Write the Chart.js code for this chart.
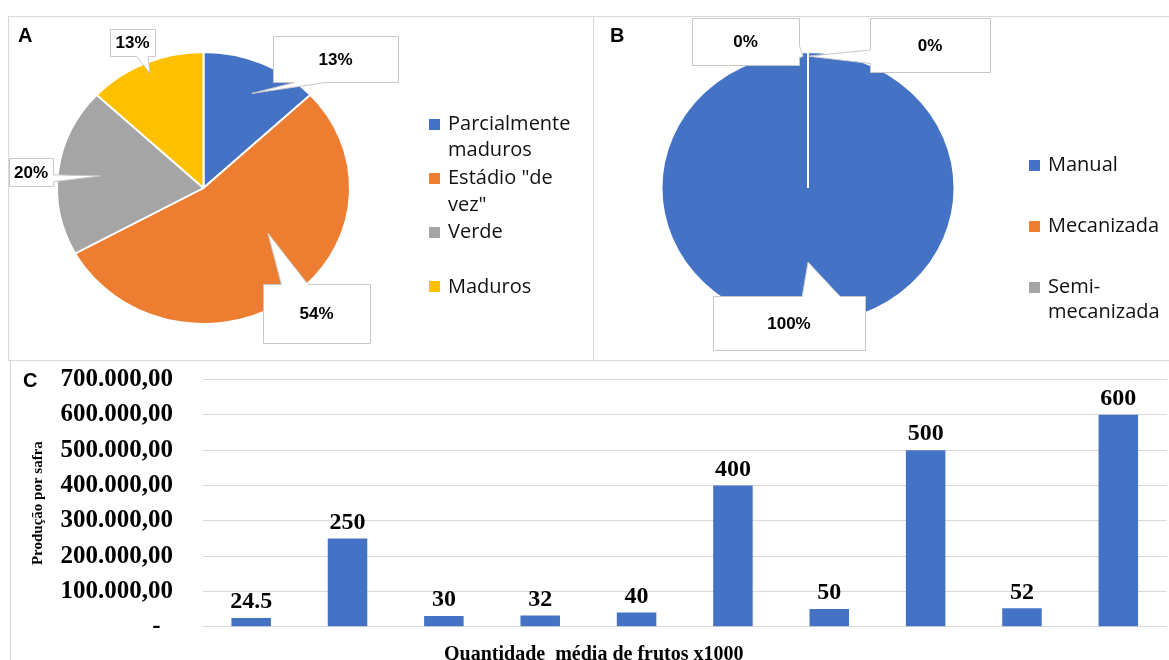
<!DOCTYPE html>
<html lang="pt-BR">
<head>
<meta charset="utf-8">
<title>Colheita: maturação, método e produção por safra</title>
<script src="https://cdn.jsdelivr.net/npm/chart.js@4.4.1/dist/chart.umd.min.js"></script>
<style>
  html, body { margin: 0; padding: 0; background: #fff; }
  body { width: 1169px; height: 660px; position: relative; overflow: hidden; }
  .frame { position: absolute; border: 1px solid #d9d9d9; box-sizing: border-box; }
  canvas { position: absolute; }
  .tag { position: absolute; z-index: 2; color: #000;
         font: bold 20px/20px "Liberation Sans", Arial, sans-serif; }
</style>
</head>
<body>
<div class="frame" style="left:8px;top:16px;width:586px;height:345px"></div>
<div class="frame" style="left:593px;top:16px;width:620px;height:345px"></div>
<div class="frame" style="left:10px;top:360px;width:1220px;height:400px"></div>

<canvas id="chartA" width="593" height="360" style="left:0;top:0"></canvas>
<canvas id="chartB" width="576" height="360" style="left:593px;top:0"></canvas>
<canvas id="chartC" width="1169" height="307" style="left:0;top:360px"></canvas>

<div class="tag" style="left:18px;top:25px">A</div>
<div class="tag" style="left:610px;top:25px">B</div>
<div class="tag" style="left:23px;top:370px">C</div>

<script>
// ---- data ----
const ripenessLabels = ['Parcialmente maduros', 'Estádio "de vez"', 'Verde', 'Maduros'];
const ripenessShare  = [13, 54, 20, 13];
const ripenessColors = ['#4472C4', '#ED7D31', '#A5A5A5', '#FFC000'];

const harvestLabels = ['Manual', 'Mecanizada', 'Semi-mecanizada'];
const harvestShare  = [100, 0, 0];
const harvestColors = ['#4472C4', '#ED7D31', '#A5A5A5'];

const fruitQty   = ['24.5', '250', '30', '32', '40', '400', '50', '500', '52', '600'];
const production = [24500, 250000, 30000, 32000, 40000, 400000, 50000, 500000, 52000, 600000];
const yTickValues = [0, 100000, 200000, 300000, 400000, 500000, 600000, 700000];

const yTitle = 'Produção por safra';
const xTitle = 'Quantidade  média de frutos x1000';

// pies are drawn slightly flattened (vertical/horizontal radius)
const PIE_RATIO = 0.928;

// ---- helpers ----
function fmtBR(v) {
  return String(Math.round(v)).replace(/\B(?=(\d{3})+(?!\d))/g, '.') + ',00';
}

function wrapText(ctx, text, maxWidth) {
  const tokens = text.split(/(?<=[ -])/);
  const lines = [];
  let line = '';
  tokens.forEach(t => {
    const trial = line + t;
    if (line && ctx.measureText(trial.trimEnd()).width > maxWidth) {
      lines.push(line.trimEnd());
      line = t;
    } else {
      line = trial;
    }
  });
  if (line) lines.push(line.trimEnd());
  return lines;
}

// rectangle with a wedge pointing at the tip (wedge base placed like Office callouts)
function calloutPath(ctx, x, y, w, h, tip) {
  const cx = x + w / 2, cy = y + h / 2;
  const dx = (tip.x - cx) / w, dy = (tip.y - cy) / h;
  let side = null, a = 0, b = 0;
  if (Math.abs(dx) > 0.5 || Math.abs(dy) > 0.5) {
    if (Math.abs(dx) > Math.abs(dy)) {
      side = dx < 0 ? 'left' : 'right';
      [a, b] = dy < 0 ? [y + h * 2 / 12, y + h * 5 / 12] : [y + h * 7 / 12, y + h * 10 / 12];
    } else {
      side = dy < 0 ? 'top' : 'bottom';
      [a, b] = dx < 0 ? [x + w * 2 / 12, x + w * 5 / 12] : [x + w * 7 / 12, x + w * 10 / 12];
    }
  }
  ctx.beginPath();
  ctx.moveTo(x, y);
  if (side === 'top') { ctx.lineTo(a, y); ctx.lineTo(tip.x, tip.y); ctx.lineTo(b, y); }
  ctx.lineTo(x + w, y);
  if (side === 'right') { ctx.lineTo(x + w, a); ctx.lineTo(tip.x, tip.y); ctx.lineTo(x + w, b); }
  ctx.lineTo(x + w, y + h);
  if (side === 'bottom') { ctx.lineTo(b, y + h); ctx.lineTo(tip.x, tip.y); ctx.lineTo(a, y + h); }
  ctx.lineTo(x, y + h);
  if (side === 'left') { ctx.lineTo(x, b); ctx.lineTo(tip.x, tip.y); ctx.lineTo(x, a); }
  ctx.closePath();
}

// ---- plugins ----
const flattenPie = {
  id: 'flattenPie',
  beforeDatasetsDraw(chart) {
    const {ctx, chartArea: c} = chart;
    const x = (c.left + c.right) / 2, y = (c.top + c.bottom) / 2;
    ctx.save();
    ctx.translate(x, y);
    ctx.scale(1, PIE_RATIO);
    ctx.translate(-x, -y);
  },
  afterDatasetsDraw(chart) { chart.ctx.restore(); }
};

const pieCallouts = {
  id: 'pieCallouts',
  afterDraw(chart, args, opts) {
    const ctx = chart.ctx;
    const meta = chart.getDatasetMeta(0);
    const values = chart.data.datasets[0].data;
    const total = values.reduce((s, v) => s + v, 0);
    ctx.save();
    opts.items.forEach(it => {
      const p = meta.data[it.index].getProps(['x', 'y', 'startAngle', 'endAngle', 'outerRadius'], true);
      const ang = (p.startAngle + p.endAngle) / 2 + (it.turn || 0) * Math.PI / 180;
      const r = p.outerRadius * it.depth;
      const tip = { x: p.x + Math.cos(ang) * r, y: p.y + Math.sin(ang) * r * PIE_RATIO };
      const [bx, by, bw, bh] = it.box;
      calloutPath(ctx, Math.round(bx) + 0.5, Math.round(by) + 0.5, bw, bh, tip);
      ctx.fillStyle = '#fff';
      ctx.fill();
      ctx.strokeStyle = '#c8c8c8';
      ctx.lineWidth = 1;
      ctx.stroke();
      ctx.fillStyle = '#000';
      ctx.font = 'bold 17px "Liberation Sans", Arial, sans-serif';
      ctx.textAlign = 'center';
      ctx.textBaseline = 'middle';
      ctx.fillText(Math.round(values[it.index] / total * 100) + '%', bx + bw / 2, by + bh / 2 + 1);
    });
    ctx.restore();
  }
};

const sideLegend = {
  id: 'sideLegend',
  afterDraw(chart, args, opts) {
    const ctx = chart.ctx;
    const labels = chart.data.labels;
    const colors = chart.data.datasets[0].backgroundColor;
    ctx.save();
    ctx.font = '20px "Open Sans", "Noto Sans", sans-serif';
    ctx.textAlign = 'left';
    ctx.textBaseline = 'middle';
    labels.forEach((label, i) => {
      const cy = opts.y + i * opts.slot;
      ctx.fillStyle = colors[i];
      ctx.fillRect(opts.x, Math.round(cy - opts.box / 2), opts.box, opts.box);
      ctx.fillStyle = '#111';
      wrapText(ctx, label, opts.maxWidth).forEach((ln, j) => {
        ctx.fillText(ln, opts.x + opts.box + opts.gap, cy + j * opts.line);
      });
    });
    ctx.restore();
  }
};

const barValues = {
  id: 'barValues',
  afterDatasetsDraw(chart) {
    const ctx = chart.ctx;
    const meta = chart.getDatasetMeta(0);
    const values = chart.data.datasets[0].data;
    ctx.save();
    ctx.font = 'bold 24px "Liberation Serif", "Times New Roman", serif';
    ctx.fillStyle = '#000';
    ctx.textAlign = 'center';
    ctx.textBaseline = 'bottom';
    meta.data.forEach((bar, i) => {
      ctx.fillText(String(values[i] / 1000), bar.x, bar.y - 4);
    });
    ctx.restore();
  }
};

const common = { responsive: false, animation: false, events: [] };

// ---- A: ripeness stage ----
new Chart(document.getElementById('chartA'), {
  type: 'pie',
  data: {
    labels: ripenessLabels,
    datasets: [{ data: ripenessShare, backgroundColor: ripenessColors,
                 borderColor: '#fff', borderWidth: 2, hoverOffset: 0 }]
  },
  options: {
    ...common,
    layout: { padding: { left: 56, right: 242, top: 40.5, bottom: 24.5 } },
    plugins: {
      legend: { display: false },
      tooltip: { enabled: false },
      pieCallouts: { items: [
        { index: 0, box: [273, 36, 125, 46], depth: 0.77, turn: 2 },
        { index: 1, box: [263, 284, 107, 59], depth: 0.55, turn: -17 },
        { index: 2, box: [9, 158, 44, 28], depth: 0.71 },
        { index: 3, box: [110, 29, 45, 27], depth: 0.92 }
      ] },
      sideLegend: { x: 429, y: 124, slot: 54.3, line: 26.5, box: 11, gap: 8, maxWidth: 132 }
    }
  },
  plugins: [flattenPie, pieCallouts, sideLegend]
});

// ---- B: harvest method ----
new Chart(document.getElementById('chartB'), {
  type: 'pie',
  data: {
    labels: harvestLabels,
    datasets: [{ data: harvestShare, backgroundColor: harvestColors,
                 borderColor: '#fff', borderWidth: 2, hoverOffset: 0 }]
  },
  options: {
    ...common,
    layout: { padding: { left: 67.5, right: 213.5, top: 40.5, bottom: 24.5 } },
    plugins: {
      legend: { display: false },
      tooltip: { enabled: false },
      pieCallouts: { items: [
        { index: 0, box: [120, 296, 152, 54], depth: 0.545 },
        { index: 1, box: [99, 18, 107, 47], depth: 0.97, turn: -2 },
        { index: 2, box: [277, 18, 120, 54], depth: 0.97 }
      ] },
      sideLegend: { x: 436, y: 165, slot: 61, line: 25, box: 11, gap: 8, maxWidth: 132 }
    }
  },
  plugins: [flattenPie, pieCallouts, sideLegend]
});

// ---- C: production per harvest ----
const serif = '"Liberation Serif", "Times New Roman", serif';
new Chart(document.getElementById('chartC'), {
  type: 'bar',
  data: {
    labels: fruitQty,
    datasets: [{ data: production, backgroundColor: '#4472C4',
                 barPercentage: 0.41, categoryPercentage: 1 }]
  },
  options: {
    ...common,
    layout: { padding: { left: 21, right: 2.5, top: 19.5, bottom: 0 } },
    plugins: {
      legend: { display: false },
      tooltip: { enabled: false },
      title: {
        display: true, position: 'bottom', text: xTitle, color: '#000',
        font: { family: serif, size: 20, weight: 'bold', lineHeight: 1.2 },
        padding: { top: 16.3, bottom: 0 }
      }
    },
    scales: {
      x: { display: false },
      y: {
        min: 0, max: 700000,
        afterBuildTicks(scale) { scale.ticks = yTickValues.map(v => ({ value: v })); },
        afterFit(scale) { scale.width = 182; },
        ticks: {
          autoSkip: false, padding: 0, color: '#000',
          font: { family: serif, size: 25, weight: 'bold' },
          callback: v => (v === 0 ? '-  ' : fmtBR(v))
        },
        // invisible tick marks keep the labels 30px off the plot
        grid: { color: '#d9d9d9', lineWidth: 1, drawTicks: true, tickLength: 30,
                tickColor: 'rgba(0,0,0,0)' },
        border: { display: false },
        title: {
          display: true, text: yTitle, color: '#000',
          font: { family: serif, size: 15, weight: 'bold', lineHeight: 1.2 },
          padding: { top: 8, bottom: 0 }
        }
      }
    }
  },
  plugins: [barValues]
});
</script>
</body>
</html>
